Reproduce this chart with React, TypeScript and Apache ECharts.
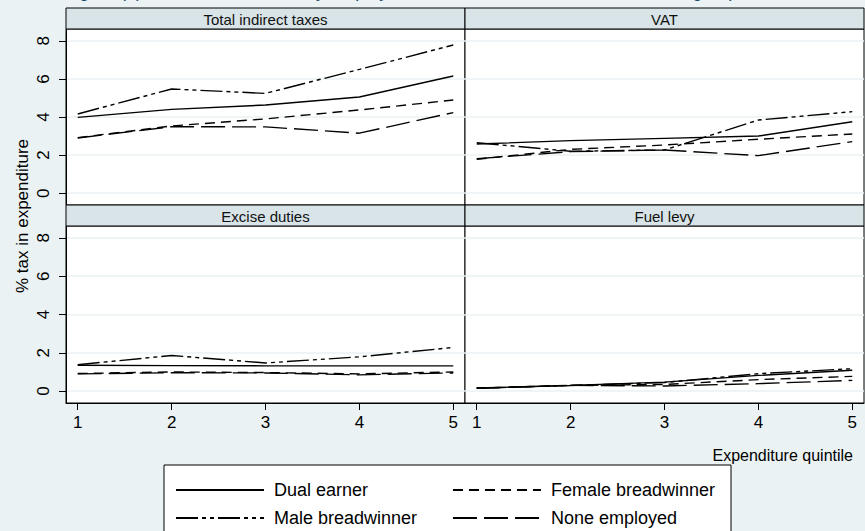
import React, { useEffect, useRef } from 'react';
import * as echarts from 'echarts';

// ---- data ----
const quintiles = [1, 2, 3, 4, 5];
const xTicks = [1, 2, 3, 4, 5];
const yTicks = [0, 2, 4, 6, 8];
const groups = ['Dual earner', 'Female breadwinner', 'Male breadwinner', 'None employed'];
const panels = ['Total indirect taxes', 'VAT', 'Excise duties', 'Fuel levy'];

const totalDual = [3.98, 4.4, 4.63, 5.05, 6.15];
const totalFemale = [2.92, 3.53, 3.9, 4.37, 4.89];
const totalMale = [4.16, 5.47, 5.24, 6.5, 7.78];
const totalNone = [2.9, 3.49, 3.48, 3.15, 4.23];

const vatDual = [2.58, 2.76, 2.88, 3.0, 3.75];
const vatFemale = [1.78, 2.3, 2.53, 2.83, 3.11];
const vatMale = [2.65, 2.2, 2.27, 3.84, 4.28];
const vatNone = [1.81, 2.18, 2.27, 1.97, 2.71];

const exciseDual = [1.35, 1.33, 1.32, 1.32, 1.32];
const exciseFemale = [0.92, 1.0, 0.97, 0.9, 1.0];
const exciseMale = [1.38, 1.86, 1.47, 1.79, 2.28];
const exciseNone = [0.9, 0.96, 0.95, 0.85, 0.95];

const fuelDual = [0.16, 0.3, 0.47, 0.82, 1.09];
const fuelFemale = [0.15, 0.3, 0.35, 0.6, 0.77];
const fuelMale = [0.15, 0.29, 0.45, 0.91, 1.17];
const fuelNone = [0.15, 0.3, 0.27, 0.39, 0.56];

const panelData = [
  [totalDual, totalFemale, totalMale, totalNone],
  [vatDual, vatFemale, vatMale, vatNone],
  [exciseDual, exciseFemale, exciseMale, exciseNone],
  [fuelDual, fuelFemale, fuelMale, fuelNone],
];

const FONT = '"Liberation Sans", Arial, Helvetica, sans-serif';
const BG = '#EAF2F3';
const STRIP = '#D8E4E8';
const GRIDC = '#EAF2F3';
const dashes: any[] = ['solid', [10, 6], [22, 4, 4, 4, 4, 4], [24, 7]];

const gridBoxes = [
  { left: 66, top: 29, width: 399, height: 176 },
  { left: 465, top: 29, width: 399, height: 176 },
  { left: 66, top: 226, width: 399, height: 177 },
  { left: 465, top: 226, width: 399, height: 177 },
];
const stripBoxes = [
  { x: 66, y: 8, w: 399, h: 21 },
  { x: 465, y: 8, w: 399, h: 21 },
  { x: 66, y: 205, w: 399, h: 21 },
  { x: 465, y: 205, w: 399, h: 21 },
];

export default function App() {
  const ref = useRef<HTMLDivElement>(null);
  useEffect(() => {
    if (!ref.current) return;
    const chart = echarts.init(ref.current, null, { renderer: 'svg' });

    const grid = gridBoxes.map((g) => ({
      ...g,
      show: true,
      backgroundColor: '#fff',
      borderColor: '#000',
      borderWidth: 1,
      containLabel: false,
      outerBoundsMode: 'none',
    }));

    const xAxis = gridBoxes.map((_, i) => {
      const bottom = i >= 2;
      return {
        type: 'value',
        gridIndex: i,
        min: 0.875,
        max: 5.125,
        axisLine: { show: bottom, onZero: false, lineStyle: { color: '#000', width: 1 } },
        axisTick: { show: bottom, length: 7, customValues: xTicks, lineStyle: { color: '#000' } },
        axisLabel: {
          show: bottom,
          customValues: xTicks,
          fontSize: 17,
          color: '#000',
          fontFamily: FONT,
          margin: 11,
        },
        splitLine: { show: false },
      };
    });

    const yAxis = gridBoxes.map((_, i) => {
      const left = i % 2 === 0;
      return {
        type: 'value',
        gridIndex: i,
        min: -0.62,
        max: 8.62,
        axisLine: { show: left, onZero: false, lineStyle: { color: '#000', width: 1 } },
        axisTick: { show: left, length: 7, customValues: yTicks, lineStyle: { color: '#000' } },
        axisLabel: {
          show: left,
          customValues: yTicks,
          rotate: 90,
          fontSize: 17,
          color: '#000',
          fontFamily: FONT,
          margin: 14,
        },
        splitLine: { show: true, lineStyle: { color: GRIDC, width: 1.5 } },
      };
    });

    const series: any[] = [];
    panelData.forEach((set, p) => {
      set.forEach((vals, g) => {
        series.push({
          type: 'line',
          name: groups[g],
          xAxisIndex: p,
          yAxisIndex: p,
          data: quintiles.map((q, k) => [q, vals[k]]),
          symbol: 'none',
          showSymbol: false,
          z: 3,
          lineStyle: { color: '#000', width: 1.4, type: dashes[g] },
          itemStyle: { color: '#000' },
          emphasis: { disabled: true },
        });
      });
    });

    const graphic: any[] = [];
    stripBoxes.forEach((s, i) => {
      graphic.push({
        type: 'rect',
        shape: { x: s.x, y: s.y, width: s.w, height: s.h },
        style: { fill: STRIP, stroke: '#000', lineWidth: 1 },
        z: 1,
      });
      graphic.push({
        type: 'text',
        x: s.x + s.w / 2,
        y: s.y + s.h / 2 + 1,
        style: {
          text: panels[i],
          fill: '#111',
          font: `15px ${FONT}`,
          textAlign: 'center',
          textVerticalAlign: 'middle',
        },
        z: 2,
      });
    });
    graphic.push({
      type: 'text',
      x: 22,
      y: 216,
      rotation: Math.PI / 2,
      style: {
        text: '% tax in expenditure',
        fill: '#000',
        font: `17px ${FONT}`,
        textAlign: 'center',
        textVerticalAlign: 'middle',
      },
    });
    graphic.push({
      type: 'text',
      x: 853,
      y: 455,
      style: {
        text: 'Expenditure quintile',
        fill: '#000',
        font: `16px ${FONT}`,
        textAlign: 'right',
        textVerticalAlign: 'middle',
      },
    });
    graphic.push({
      type: 'rect',
      shape: { x: 164, y: 465, width: 567, height: 80 },
      style: { fill: '#fff', stroke: '#000', lineWidth: 1 },
      z: 0,
    });
    graphic.push({
      type: 'text',
      x: 64,
      y: -0.5,
      style: {
        text: 'Figure (1): Indirect tax burden by employment status of household and income group,',
        fill: '#1A476F',
        font: `18px ${FONT}`,
        textAlign: 'left',
        textVerticalAlign: 'bottom',
      },
    });

    const legendBase = {
      orient: 'vertical',
      top: 481,
      itemWidth: 88,
      itemHeight: 20,
      itemGap: 10,
      padding: 0,
      selectedMode: false,
      itemStyle: { color: 'rgba(0,0,0,0)', borderColor: 'rgba(0,0,0,0)', borderWidth: 0 },
      textStyle: { fontSize: 18, color: '#000', fontFamily: FONT, padding: [0, 0, 0, 5] },
      z: 5,
    };

    chart.setOption({
      animation: false,
      backgroundColor: BG,
      textStyle: { fontFamily: FONT },
      grid,
      xAxis,
      yAxis,
      series,
      graphic,
      legend: [
        { ...legendBase, left: 175, data: [groups[0], groups[2]] },
        { ...legendBase, left: 452, data: [groups[1], groups[3]] },
      ],
    });

    return () => chart.dispose();
  }, []);

  return (
    <div
      ref={ref}
      style={{ position: 'fixed', left: 0, top: 0, width: 865, height: 531 }}
    />
  );
}
